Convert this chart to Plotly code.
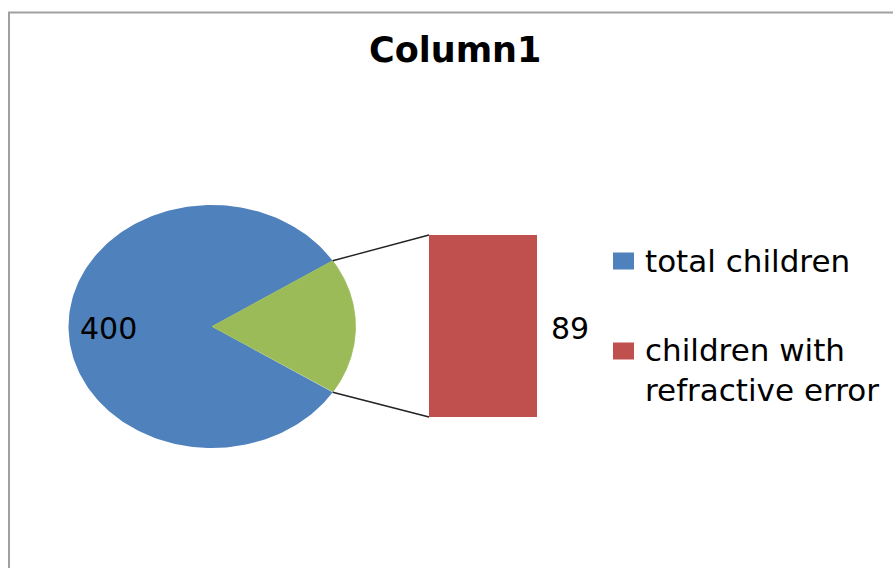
import math
import plotly.graph_objects as go

# ---- data ----
title_text = "Column1"
categories = ["total children", "children with refractive error"]
pie_values = [400, 89]           # main pie: total children, "other" slice
bar_values = [89]                # secondary bar (expanded slice)
legend_labels = ["total children", "children with<br>refractive error"]

# ---- styling / layout constants ----
W, H = 893, 568
BLUE, GREEN, RED = "#4F81BD", "#9BBB59", "#C0504D"
FONT = "'DejaVu Sans', sans-serif"
CX, CY, RX, RY = 212, 326.5, 143.5, 121.5     # pie ellipse (pixels)
BAR_X0, BAR_X1, BAR_Y0, BAR_Y1 = 429, 537, 235, 417  # bar box (pixels)

total = sum(pie_values)
half = math.pi * pie_values[1] / total   # half-angle of the split slice


def wedge(a0, a1, n=200):
    xs, ys = [CX], [CY]
    for i in range(n + 1):
        a = a0 + (a1 - a0) * i / n
        xs.append(CX + RX * math.cos(a))
        ys.append(CY - RY * math.sin(a))
    xs.append(CX)
    ys.append(CY)
    return xs, ys


fig = go.Figure()

bx, by = wedge(half, 2 * math.pi - half)
fig.add_trace(go.Scatter(x=bx, y=by, fill="toself", fillcolor=BLUE, mode="lines",
                         line=dict(width=0, color=BLUE), name=categories[0],
                         showlegend=False, hoverinfo="skip"))
gx, gy = wedge(-half, half)
fig.add_trace(go.Scatter(x=gx, y=gy, fill="toself", fillcolor=GREEN, mode="lines",
                         line=dict(width=0.8, color=GREEN), name="other",
                         showlegend=False, hoverinfo="skip"))

# secondary bar on its own axes
fig.add_trace(go.Bar(x=[categories[1]], y=bar_values, marker_color=RED,
                     marker_line_width=0, width=1, xaxis="x2", yaxis="y2",
                     showlegend=False, hoverinfo="skip"))

# connector lines from slice edge to bar corners
ex = CX + RX * math.cos(half)
ey_top = CY - RY * math.sin(half)
ey_bot = CY + RY * math.sin(half)
fig.add_trace(go.Scatter(x=[ex, BAR_X0, None, ex, BAR_X0],
                         y=[ey_top, BAR_Y0, None, ey_bot, BAR_Y1],
                         mode="lines", line=dict(color="#222222", width=1.4),
                         showlegend=False, hoverinfo="skip"))

fig.update_layout(
    width=W, height=H,
    margin=dict(l=0, r=0, t=0, b=0),
    paper_bgcolor="white", plot_bgcolor="white",
    xaxis=dict(range=[0, W], visible=False, domain=[0, 1], fixedrange=True),
    yaxis=dict(range=[H, 0], visible=False, domain=[0, 1], fixedrange=True),
    xaxis2=dict(domain=[BAR_X0 / W, BAR_X1 / W], visible=False, anchor="y2",
                range=[-0.5, 0.5]),
    yaxis2=dict(domain=[1 - BAR_Y1 / H, 1 - BAR_Y0 / H], visible=False,
                anchor="x2", range=[0, bar_values[0]]),
    showlegend=False,
)

# border of chart area
fig.add_shape(type="path", xref="paper", yref="paper",
              path=f"M {9/W} 0 L {9/W} {1-12.5/H} L 1 {1-12.5/H}",
              line=dict(color="#a0a0a0", width=2))

# title
fig.add_annotation(x=455, y=50, xref="x", yref="y", text=f"<b>{title_text}</b>",
                   showarrow=False, font=dict(family=FONT, size=35, color="black"))

# data labels
fig.add_annotation(x=108, y=328, xref="x", yref="y", text=str(pie_values[0]),
                   showarrow=False, font=dict(family=FONT, size=30, color="black"))
fig.add_annotation(x=570, y=328, xref="x", yref="y", text=str(bar_values[0]),
                   showarrow=False, font=dict(family=FONT, size=30, color="black"))

# legend (squares + labels)
leg_y = [261, 351]
for lab, col, yy in zip(legend_labels, [BLUE, RED], leg_y):
    fig.add_shape(type="rect", xref="x", yref="y", x0=613, x1=634,
                  y0=yy - 8.5, y1=yy + 8.5, fillcolor=col, line=dict(width=0))
    fig.add_annotation(x=643, y=yy, xref="x", yref="y", text=lab,
                       showarrow=False, xanchor="left",
                       yanchor="middle" if "<br>" not in lab else "top",
                       yshift=0 if "<br>" not in lab else 21,
                       align="left",
                       font=dict(family=FONT, size=31, color="black"))

fig.write_html("out.html", config={"displayModeBar": False},
               post_script="document.body.style.margin='0';document.body.style.padding='0';")
